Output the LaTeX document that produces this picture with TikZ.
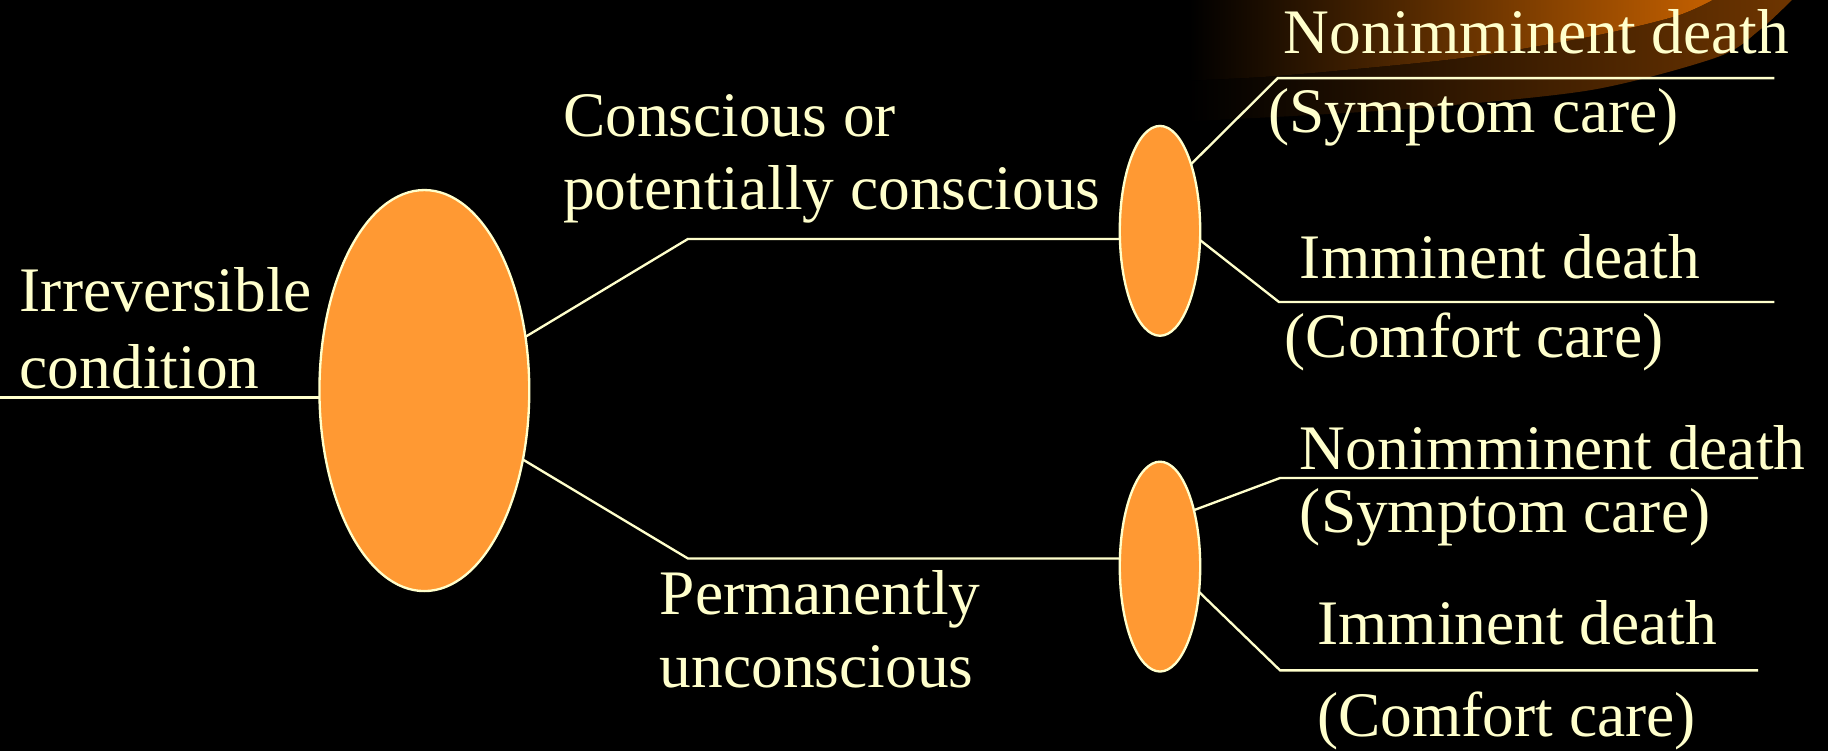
\documentclass[tikz,border=0pt]{standalone}
\usepackage{fontspec}
\setmainfont{Liberation Serif}
\usetikzlibrary{shapes.geometric,calc}
\definecolor{txt}{HTML}{FFFFCC}
\definecolor{orng}{HTML}{FF9933}
\definecolor{swA}{HTML}{6E3500}
\definecolor{swB}{HTML}{C46000}
\begin{document}
\begin{tikzpicture}[x=0.5pt,y=-0.5pt,
  lbl/.style={anchor=base west, inner sep=0pt, outer sep=0pt, text=txt, font=\fontsize{27.2pt}{32.5pt}\selectfont},
  blob/.style={ellipse, draw=txt, fill=orng, line width=1pt, inner sep=0pt, outer sep=0pt},
  bigblob/.style={blob, minimum width=90pt, minimum height=172pt},
  smallblob/.style={blob, minimum width=34.5pt, minimum height=90pt},
  conn/.style={draw=txt, line width=1pt}]
\fill[black] (0,0) rectangle (1568,644);
\useasboundingbox (0,0) rectangle (1568,644);
% decorative swoosh
\fill[left color=black, right color=swA] (1020,0) -- plot[smooth] coordinates
  {(1537,0) (1509,26) (1473,49) (1366,77) (1225,92) (1118,99) (1020,104)} -- cycle;
\fill[left color=black, right color=swB] (1020,0) -- plot[smooth] coordinates
  {(1469,0) (1437,14) (1366,31) (1260,49) (1154,60) (1083,66) (1020,69)} -- cycle;
% nodes
\node[bigblob] (big) at (364,335) {};
\node[smallblob] (s1) at (995,198) {};
\node[smallblob] (s2) at (995,486) {};
% coordinates
\coordinate (in) at (0,341);
\coordinate (k1) at (590,205);
\coordinate (k2) at (590,479);
\coordinate (a1) at (1096,67);  \coordinate (a1e) at (1522,67);
\coordinate (b1) at (1097,259); \coordinate (b1e) at (1522,259);
\coordinate (a2) at (1098,410); \coordinate (a2e) at (1508,410);
\coordinate (b2) at (1098,575); \coordinate (b2e) at (1508,575);
% connectors
\draw[conn] (in) -- (in -| big.west);
\draw[conn] (big.28) -- (k1) -- (k1 -| s1.west);
\draw[conn] (big.-35) -- (k2) -- (k2 -| s2.west);
\draw[conn] (s1.65) -- (a1) -- (a1e);
\draw[conn] (s1.-13) -- (b1) -- (b1e);
\draw[conn] (s2.59) -- (a2) -- (a2e);
\draw[conn] (s2.-33) -- (b2) -- (b2e);
% labels
\node[lbl] (t1) at (17,267) {Irreversible};
\node[lbl] (t2) at (17,333) {condition};
\node[lbl] (t3) at (483,117) {Conscious or};
\node[lbl] (t4) at (483,180) {potentially conscious};
\node[lbl] (t5) at (566,527) {Permanently};
\node[lbl] (t6) at (566,590) {unconscious};
\node[lbl] (t7) at (1101,46) {Nonimminent death};
\node[lbl] (t8) at (1088,114) {(Symptom care)};
\node[lbl] (t9) at (1115,239) {Imminent death};
\node[lbl] (t10) at (1102,307) {(Comfort care)};
\node[lbl] (t11) at (1115,403) {Nonimminent death};
\node[lbl] (t12) at (1115,457) {(Symptom care)};
\node[lbl] (t13) at (1130,553) {Imminent death};
\node[lbl] (t14) at (1130,632) {(Comfort care)};
\end{tikzpicture}
\end{document}
